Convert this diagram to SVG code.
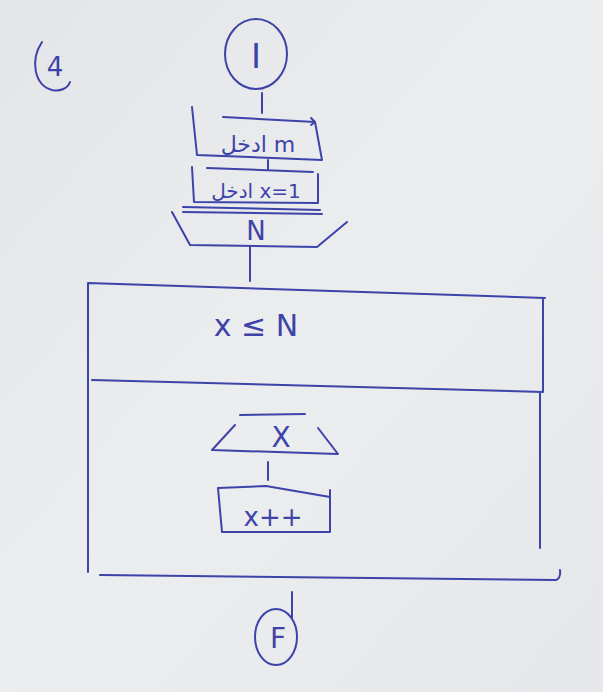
<svg xmlns="http://www.w3.org/2000/svg" width="603" height="692" viewBox="0 0 603 692">
<style>
.ink{fill:none;stroke:#3d43a8;stroke-width:2;stroke-linecap:round;stroke-linejoin:round}
.t{font-family:"DejaVu Sans","Noto Sans",sans-serif;fill:#3d43a8;text-anchor:middle}
</style>
<defs>
<linearGradient id="bg" x1="0" y1="0" x2="1" y2="1">
<stop offset="0" stop-color="#e4e5e8"/>
<stop offset="0.5" stop-color="#ecedef"/>
<stop offset="1" stop-color="#e6e7ea"/>
</linearGradient>
</defs>
<rect width="603" height="692" fill="url(#bg)"/>
<g id="label4">
<path class="ink" d="M42,42 C30,60 34,85 52,90 C60,92 68,88 70,82"/>
<text class="t" x="55" y="76" font-size="26">4</text>
</g>
<g id="connectors">
<path class="ink" d="M262,93 L262,113"/>
<path class="ink" d="M268,160 L268,170"/>
<path class="ink" d="M250,247 L250,281"/>
<path class="ink" d="M268,462 L268,480"/>
<path class="ink" d="M292,592 L292,618"/>
</g>
<g id="start">
<ellipse class="ink" cx="256" cy="54" rx="31" ry="35"/>
<text class="t" x="256" y="68" font-size="34">I</text>
</g>
<g id="input1">
<path class="ink" d="M223,117 L315,122 M311,118 L315,122 L311,125 M192,107 L197,155 L322,160 L315,122"/>
<text class="t" x="258" y="152" font-size="22">ادخل m</text>
</g>
<g id="input2">
<path class="ink" d="M207,168 L313,172 M192,167 L194,202 L318,203 L318,174"/>
<text class="t" x="256" y="198" font-size="20">ادخل x=1</text>
</g>
<g id="outputN">
<path class="ink" d="M183,207 L320,210 M183,212 L322,214 M172,212 L190,245 L317,247 L347,222"/>
<text class="t" x="256" y="240" font-size="26">N</text>
</g>
<g id="loop">
<path class="ink" d="M88,283 L545,298 M88,283 L88,572 M92,380 L543,392 M543,298 L543,392 M540,392 L540,548 M100,575 L556,580 Q561,578 560,570"/>
<text class="t" x="256" y="336" font-size="30">x ≤ N</text>
</g>
<g id="outputX">
<path class="ink" d="M240,415 L305,414 M235,425 L212,450 L338,454 L318,428"/>
<text class="t" x="281" y="447" font-size="28">X</text>
</g>
<g id="increment">
<path class="ink" d="M218,488 L266,486 L330,497 M218,488 L222,532 L330,532 L330,490"/>
<text class="t" x="273" y="526" font-size="26">x++</text>
</g>
<g id="end">
<ellipse class="ink" cx="276" cy="637" rx="21" ry="28"/>
<text class="t" x="278" y="648" font-size="28">F</text>
</g>
</svg>
